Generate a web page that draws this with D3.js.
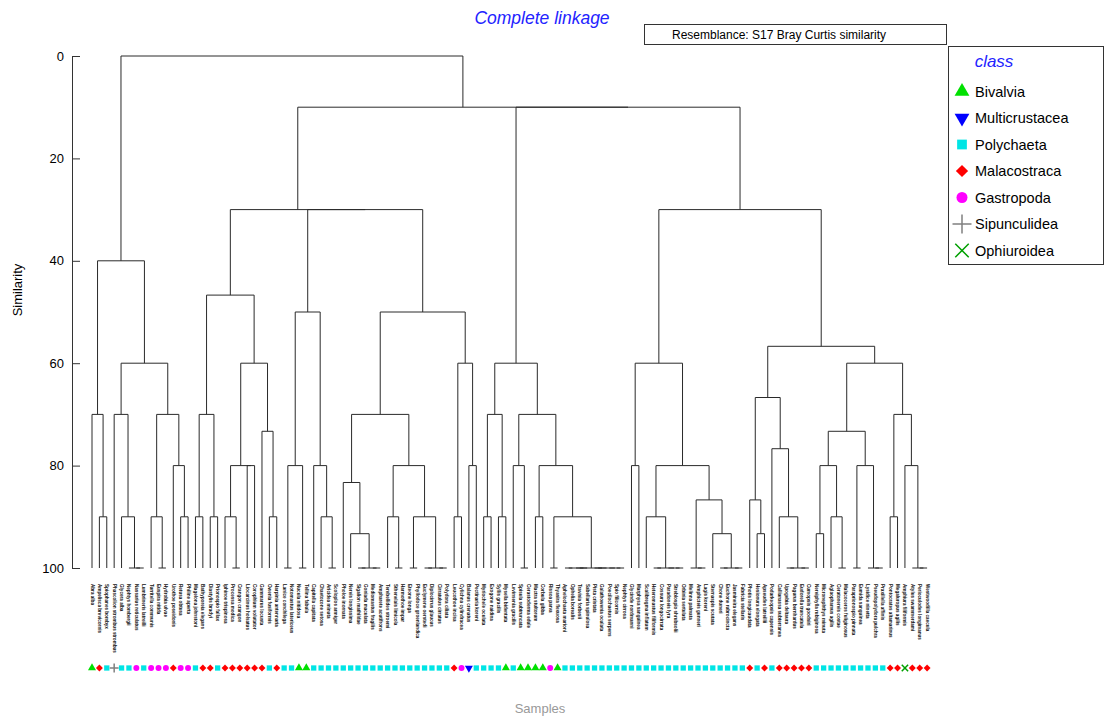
<!DOCTYPE html>
<html>
<head>
<meta charset="utf-8">
<script src="https://d3js.org/d3.v7.min.js"></script>
<style>
  body { margin: 0; background: #fff; }
  svg { font-family: "Liberation Sans", Arial, sans-serif; }
</style>
</head>
<body>
<svg id="chart" width="1108" height="717"></svg>
<script>
// ---- data ----
const classNames = ["Bivalvia", "Multicrustacea", "Polychaeta", "Malacostraca", "Gastropoda", "Sipunculidea", "Ophiuroidea"];
const classCodes = ["B", "U", "P", "M", "G", "S", "O"];

// class of each sample, left to right
const sampleClass = [
  "B","M","P","S","P","P","G","P","G","G","G","M","G","G","P","M","M","P","M","M",
  "M","M","M","M","P","M","P","P","B","B","P","P","P","P","P","P","P","P","P","P",
  "P","P","P","P","P","P","P","P","P","M","G","U","P","P","P","P","B","P","B","B",
  "B","B","G","B","P","P","P","P","P","P","P","P","P","P","P","P","P","P","P","P",
  "P","P","P","P","P","P","P","P","P","M","P","M","P","M","M","M","M","M","P","P",
  "P","P","P","P","P","P","P","P","M","M","O","M","M","M"
];

const sampleNames = [
  "Abra alba","Ampelisca brevicornis","Spiophanes bombyx","Phascolion strombus strombus","Glycera alba",
  "Nephtys hombergii","Nassarius reticulatus","Lumbrineris latreilli","Turritella communis","Euspira nitida",
  "Hydrobia ulvae","Urothoe poseidonis","Retusa obtusa","Philine aperta","Magelona johnstoni",
  "Bathyporeia elegans","Diastylis bradyi","Prionospio fallax","Iphinoe trispinosa","Processa modica",
  "Crangon crangon","Liocarcinus holsatus","Corophium volutator","Gammarus locusta","Owenia fusiformis",
  "Harpinia antennaria","Lanice conchilega","Notomastus latericeus","Nucula nitidosa","Tellina fabula",
  "Capitella capitata","Chaetozone setosa","Aricidea minuta","Scoloplos armiger","Pholoe inornata",
  "Nereis longissima","Sigalion mathildae","Goniada maculata","Mediomastus fragilis","Ampharete acutifrons",
  "Terebellides stroemi","Sthenelais limicola","Harmothoe impar","Eteone longa","Phyllodoce groenlandica",
  "Euclymene oerstedi","Diplocirrus glaucus","Cirratulus cirratus","Polydora ciliata","Leucothoe incisa",
  "Cylichna cylindracea","Balanus crenatus","Pectinaria koreni","Myriochele oculata","Exogone naidina",
  "Syllis gracilis","Mysella bidentata","Levinsenia gracilis","Spisula subtruncata","Cerastoderma edule",
  "Mactra stultorum","Corbula gibba","Rissoa parva","Thyasira flexuosa","Aphelochaeta marioni",
  "Ophelia borealis","Travisia forbesii","Sabellaria spinulosa","Pista cristata","Galathowenia oculata",
  "Poecilochaetus serpens","Spio filicornis","Nephtys cirrosa","Glycinde nordmanni","Marphysa sanguinea",
  "Scalibregma inflatum","Heteromastus filiformis","Cossura longocirrata","Paradoneis lyra","Streblospio shrubsolii",
  "Orbinia sertulata","Melinna palmata","Amphicteis gunneri","Lagis koreni","Sternaspis scutata",
  "Chone duneri","Euchone rubrocincta","Jasmineira elegans","Fabricia stellaris","Photis longicaudata",
  "Hesionura elongata","Apseudes latreillii","Podarkeopsis capensis","Callianassa subterranea","Upogebia deltaura",
  "Pagurus bernhardus","Eudorella truncatula","Cumopsis goodsiri","Nereiphylla rubiginosa","Micronephthys minuta",
  "Aglaophamus agilis","Ceratonereis costae","Malacoceros fuliginosus","Paraprionospio pinnata","Eumida sanguinea",
  "Lysidice ninetta","Pseudopolydora pulchra","Praxillella affinis","Pontocrates altamarinus","Megaluropus agilis",
  "Amphiura filiformis","Atylus swammerdami","Perioculodes longimanus","Westwoodilla caecula"
];

// similarity at which neighbouring samples (i, i+1) join
const joinLevel = [
  70, 90, 40, 70, 90, 100, 100, 60, 90, 100, 70, 80, 90, 0,
  90, 70, 90, 46.7, 90, 100, 80, 80, 60, 73.3, 90, 30,
  100, 80, 100, 50, 80, 90, 100, 30,
  83.3, 93.3, 100, 100, 100, 70, 90, 100, 80, 100, 90, 100, 100, 100, 50, 90, 60, 80, 10,
  90, 70, 90, 60, 80, 100, 70, 90, 80, 100, 90, 100, 100, 100, 100, 100, 100, 100, 100, 10,
  80, 60, 90, 100, 100, 100, 100, 80, 100, 100, 86.7, 93.3, 100, 100, 100, 30,
  86.7, 93.3, 66.7, 76.7, 90, 100, 100, 100, 56.7, 93.3, 80, 90, 100, 73.3, 100, 80, 100, 100, 60, 90, 70, 80, 100, 100
];

const yTicks = [0, 20, 40, 60, 80, 100];

// ---- chart ----
const svg = d3.select("#chart");
const n = sampleClass.length;

const x = d3.scaleLinear().domain([0, n - 1]).range([92, 927.1]);
const y = d3.scaleLinear().domain([0, 100]).range([56, 568]);

// build binary tree from the join levels (ties are split in halves)
function build(a, b) {
  if (a === b) return { leaf: a, h: 100, x: x(a) };
  const m = d3.min(joinLevel.slice(a, b));
  const parts = [];
  let start = a;
  for (let k = a; k < b; k++) {
    if (joinLevel[k] === m) { parts.push(build(start, k)); start = k + 1; }
  }
  parts.push(build(start, b));
  return combine(parts, m);
}
function combine(list, h) {
  if (list.length === 1) return list[0];
  const half = Math.floor(list.length / 2);
  const l = combine(list.slice(0, half), h);
  const r = combine(list.slice(half), h);
  return { h: h, children: [l, r], x: (l.x + r.x) / 2 };
}

const root = d3.hierarchy(build(0, n - 1));
const tree = svg.append("g")
  .attr("fill", "none")
  .attr("stroke", "#2a2a2a")
  .attr("stroke-width", 1);

root.descendants().filter(d => d.children).forEach(d => {
  const [l, r] = d.children;
  tree.append("line")
    .attr("x1", l.data.x).attr("x2", r.data.x)
    .attr("y1", y(d.data.h)).attr("y2", y(d.data.h));
  d.children.forEach(c => {
    if (c.data.h > d.data.h) {
      tree.append("line")
        .attr("x1", c.data.x).attr("x2", c.data.x)
        .attr("y1", y(d.data.h)).attr("y2", y(c.data.h));
    }
  });
});

// y axis
const axis = svg.append("g").attr("transform", "translate(72,0)")
  .call(d3.axisLeft(y).tickValues(yTicks).tickSize(9).tickSizeOuter(0).tickFormat(d3.format("d")));
axis.select(".domain").attr("stroke", "#333");
axis.selectAll(".tick line").attr("stroke", "#333").attr("x2", 8);
axis.selectAll(".tick text").attr("x", -8).attr("font-size", 13)
  .attr("font-family", "Liberation Sans, Arial, sans-serif").attr("fill", "#000");

svg.append("text")
  .attr("transform", "translate(22,290) rotate(-90)")
  .attr("text-anchor", "middle").attr("font-size", 13).text("Similarity");

// sample labels
svg.append("g").selectAll("text")
  .data(sampleNames)
  .join("text")
  .attr("transform", (d, i) => `translate(${x(i) - 1.5},584) rotate(90)`)
  .attr("font-size", 4.6)
  .attr("font-weight", "bold")
  .attr("fill", "#111")
  .text(d => d);

// class symbols
const symType = {
  B: d3.symbolTriangle, U: d3.symbolTriangle, P: d3.symbolSquare, M: d3.symbolSquare,
  G: d3.symbolCircle, S: d3.symbolPlus, O: d3.symbolTimes
};
const symColor = {
  B: "#00e000", U: "#0000ff", P: "#00e5e5", M: "#ff0000", G: "#ff00ff", S: "#808080", O: "#00a000"
};
function drawSymbol(g, code, size) {
  const stroke = code === "S" || code === "O";
  const rot = code === "U" ? "rotate(180)" : code === "M" ? "rotate(45)" : null;
  g.append("path")
    .attr("d", d3.symbol().type(symType[code]).size(size)())
    .attr("transform", rot)
    .attr("fill", stroke ? "none" : symColor[code])
    .attr("stroke", stroke ? symColor[code] : "none")
    .attr("stroke-width", stroke ? 1.5 : 0);
}
svg.append("g").selectAll("g")
  .data(sampleClass)
  .join("g")
  .attr("transform", (d, i) => `translate(${x(i)},668)`)
  .each(function (d) { drawSymbol(d3.select(this), d, d === "M" ? 24 : 28); });

svg.append("text")
  .attr("x", 540).attr("y", 713)
  .attr("text-anchor", "middle").attr("font-size", 13).attr("fill", "#999")
  .text("Samples");

// title and resemblance box
svg.append("text")
  .attr("x", 542).attr("y", 24)
  .attr("text-anchor", "middle").attr("font-size", 17.5)
  .attr("font-style", "italic").attr("fill", "#2323ff")
  .text("Complete linkage");

svg.append("rect")
  .attr("x", 644.5).attr("y", 24.5).attr("width", 302).attr("height", 20)
  .attr("fill", "#fff").attr("stroke", "#333");
svg.append("text")
  .attr("x", 672).attr("y", 38.5).attr("font-size", 12).text("Resemblance: S17 Bray Curtis similarity");

// legend
const legend = svg.append("g");
legend.append("rect")
  .attr("x", 948.5).attr("y", 46.5).attr("width", 155).attr("height", 218)
  .attr("fill", "#fff").attr("stroke", "#333");
legend.append("text")
  .attr("x", 994).attr("y", 67).attr("text-anchor", "middle")
  .attr("font-size", 17).attr("font-style", "italic").attr("fill", "#2323ff")
  .text("class");
const item = legend.selectAll("g.item")
  .data(classCodes)
  .join("g")
  .attr("class", "item")
  .attr("transform", (d, i) => `translate(962,${91.5 + i * 26.5})`);
item.each(function (d) {
  const s = d === "S" || d === "O" ? 120 : d === "M" ? 75 : 95;
  drawSymbol(d3.select(this), d, s);
});
item.append("text")
  .attr("x", 13).attr("y", 5).attr("font-size", 14.5)
  .text((d, i) => classNames[i]);
</script>
</body>
</html>
